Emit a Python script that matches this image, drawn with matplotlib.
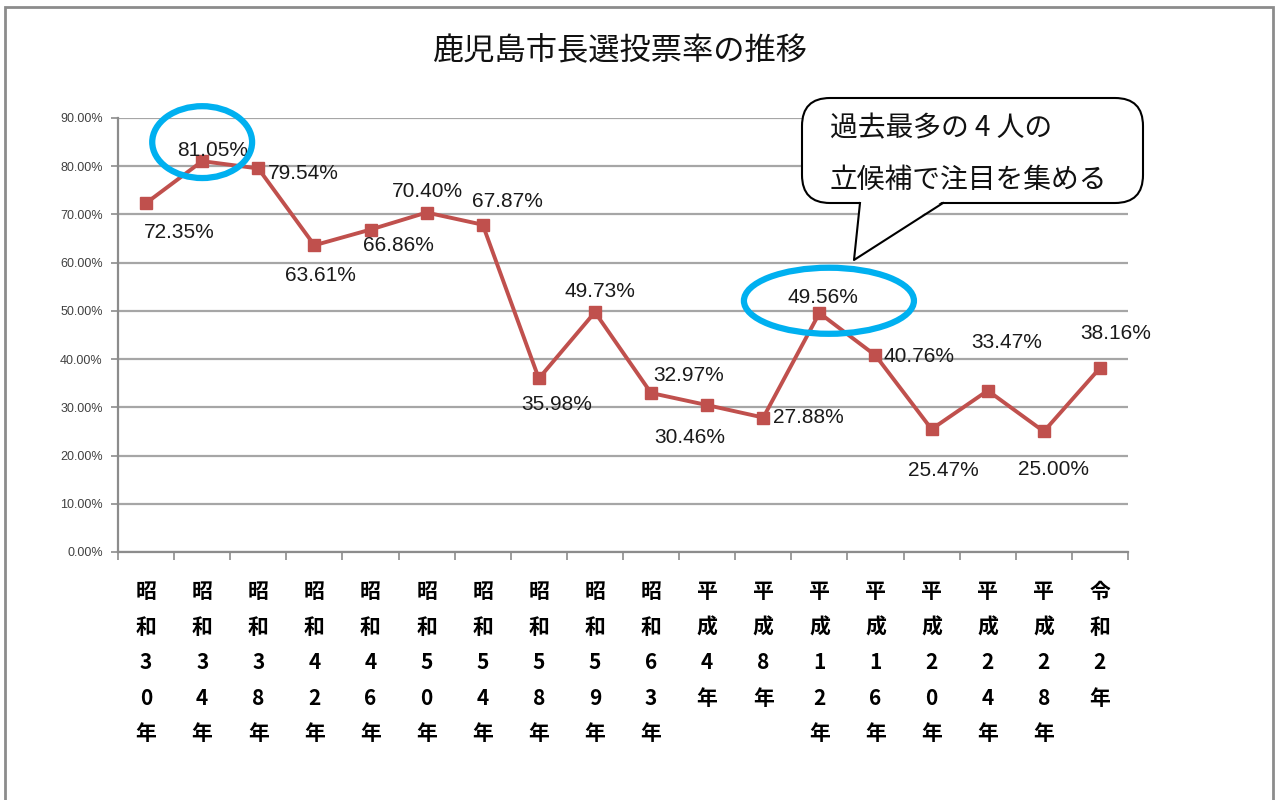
import matplotlib
matplotlib.use("Agg")
import matplotlib.pyplot as plt
from matplotlib.patches import Ellipse, FancyBboxPatch, Polygon, Rectangle
from matplotlib.transforms import IdentityTransform
from matplotlib.ticker import FixedLocator, PercentFormatter

plt.rcParams['font.family'] = ['Noto Sans CJK JP', 'DejaVu Sans']

# data
years = ["昭和30年", "昭和34年", "昭和38年", "昭和42年", "昭和46年", "昭和50年",
         "昭和54年", "昭和58年", "昭和59年", "昭和63年", "平成4年", "平成8年",
         "平成12年", "平成16年", "平成20年", "平成24年", "平成28年", "令和2年"]
turnout = [72.35, 81.05, 79.54, 63.61, 66.86, 70.40, 67.87, 35.98, 49.73,
           32.97, 30.46, 27.88, 49.56, 40.76, 25.47, 33.47, 25.00, 38.16]
yticks = [0, 10, 20, 30, 40, 50, 60, 70, 80, 90]
title = "鹿児島市長選投票率の推移"
note = "過去最多の 4 人の\n立候補で注目を集める"

# label offsets in pixels (dx right, dy down)
offsets = [(33, 29), (10, -11), (45, 5), (6, 30), (28, 16), (1, -21), (25, -23),
           (18, 26), (5, -21), (38, -18), (-17, 32), (45, 0), (4, -16), (44, 1),
           (12, 41), (19, -48), (10, 38), (16, -34)]

W, H = 1276, 800
fig = plt.figure(figsize=(W / 100, H / 100), dpi=100)

# outer frame
fig.patches.append(Rectangle((5, -20), 1268, H - 7 + 20, transform=IdentityTransform(),
                             fill=False, edgecolor='#8c8c8c', lw=2))

ax = fig.add_axes([118 / W, 1 - 552 / H, (1128 - 118) / W, (552 - 118) / H])

xs = list(range(len(years)))
ax.plot(xs, turnout, color='#c0504d', lw=2.8, marker='s', ms=8, zorder=3)

for i, v in enumerate(turnout):
    dx, dy = offsets[i]
    ax.annotate(f"{v:.2f}%", (i, v), xytext=(dx, -dy), textcoords='offset pixels',
                ha='center', va='center', fontsize=15, color='#1a1a1a',
                family=['Liberation Sans', 'DejaVu Sans'], zorder=4)

ax.set_xlim(-0.5, len(years) - 0.5)
ax.set_ylim(0, 90)
ax.set_yticks(yticks)
ax.yaxis.set_major_formatter(PercentFormatter(decimals=2))
ax.grid(axis='y', color='#a6a6a6', lw=1.6)
ax.set_axisbelow(True)
for s in ['top', 'right']:
    ax.spines[s].set_visible(False)
for s in ['left', 'bottom']:
    ax.spines[s].set_color('#8c8c8c')
    ax.spines[s].set_linewidth(1.6)

ax.set_xticks(xs)
ax.set_xticklabels(["\n".join(list(y)) for y in years], fontsize=15,
                   linespacing=1.85, va='top', fontweight='bold')
ax.tick_params(axis='x', length=0, pad=21)
ax.xaxis.set_minor_locator(FixedLocator([i + 0.5 for i in range(-1, len(years))]))
ax.tick_params(axis='x', which='minor', length=6, color='#8c8c8c', width=1.2)
ax.tick_params(axis='y', length=5, color='#8c8c8c', width=1.2, pad=6,
               labelsize=9, labelcolor='#404040')
for lab in ax.get_yticklabels():
    lab.set_family(['Liberation Sans', 'DejaVu Sans'])

# highlight circles
ax.add_patch(Ellipse((1, 85), 1.78, 14.9, fill=False, edgecolor='#00b0f0', lw=4.5,
                     clip_on=False, zorder=5))
ax.add_patch(Ellipse((12.17, 52.1), 3.03, 13.7, fill=False, edgecolor='#00b0f0', lw=4.5,
                     clip_on=False, zorder=5))

# speech bubble (pixel coords, y from top)
def p(x, y):
    return (x, H - y)

box = FancyBboxPatch(p(802, 203), 1143 - 802, 203 - 98, transform=IdentityTransform(),
                     boxstyle="round,pad=0,rounding_size=28", facecolor='white',
                     edgecolor='black', lw=1.5, zorder=6)
fig.patches.append(box)
fig.patches.append(Polygon([p(860, 201), p(943, 201), p(854, 260)], closed=False,
                           transform=IdentityTransform(), facecolor='white',
                           edgecolor='none', zorder=7))
fig.lines.append(plt.Line2D([860, 854, 943], [H - 203, H - 260, H - 203],
                            transform=IdentityTransform(), color='black', lw=1.5, zorder=8))
fig.text(830 / W, 1 - 154 / H, note, fontsize=20, linespacing=1.95, va='center',
         ha='left', color='#111111', zorder=9)

fig.text(620 / W, 1 - 50 / H, title, fontsize=22.5, ha='center', va='center', color='#111111')

fig.savefig("out.png", dpi=100)
